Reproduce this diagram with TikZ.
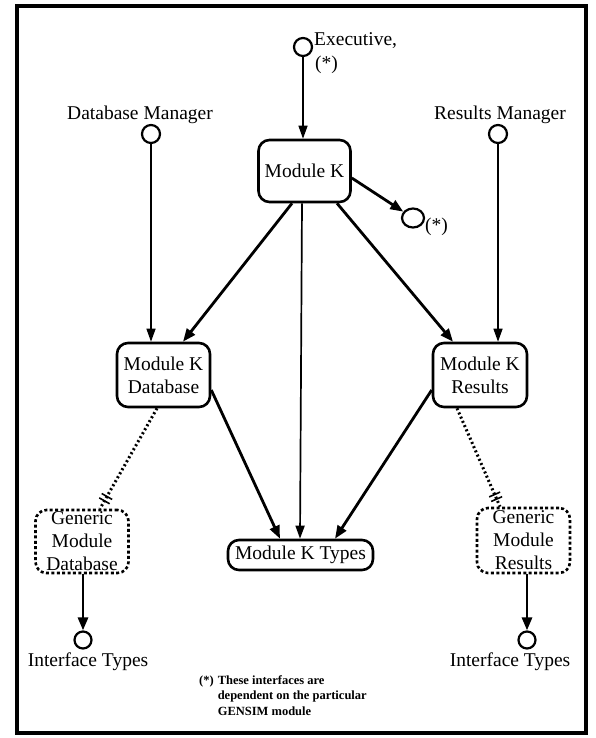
\documentclass[tikz,border=0pt]{standalone}
\usepackage{fontspec}
\setmainfont{Liberation Serif}
\usetikzlibrary{arrows.meta,decorations.markings,shapes.geometric}
\begin{document}
\begin{tikzpicture}[x=1pt,y=-1pt,
  box/.style={draw,line width=2.6pt,rounded corners=11pt,inner sep=0pt,align=center,
    font=\fontsize{19.5}{23}\selectfont},
  genbox/.style={box,dash pattern=on 3pt off 2.4pt},
  port/.style={draw,circle,line width=2.2pt,minimum size=18pt,inner sep=0pt},
  lbl/.style={font=\fontsize{19.5}{22}\selectfont,inner sep=0pt},
  thinlink/.style={line width=1.4pt,-{Triangle[length=13pt,width=9pt]}},
  thicklink/.style={line width=2.8pt,-{Triangle[length=13pt,width=10pt]}},
  hatch/.style={postaction={decorate},decoration={markings,
    mark=at position 0.9 with {\draw[solid,line width=1.6pt] (-2.5,-6)--(-2.5,6) (2.5,-6)--(2.5,6);}}},
  dotlink/.style={line width=3pt,dash pattern=on 2pt off 2.6pt,hatch}
]
\useasboundingbox (0,0) rectangle (595,738);
\fill[white] (0,0) rectangle (595,738);
\draw[line width=4pt] (17,6) rectangle (586,733);

% modules
\node[box,minimum width=92pt,minimum height=62pt] (mk) at (304.5,171) {Module K};
\node[box,minimum width=93pt,minimum height=64pt] (mkd) at (163.5,375) {Module K\\Database};
\node[box,minimum width=94pt,minimum height=64pt] (mkr) at (480,375) {Module K\\Results};
\node[box,minimum width=145pt,minimum height=30pt] (mkt) at (300.5,555) {Module K Types};
\node[genbox,minimum width=93pt,minimum height=63pt] (gmd) at (82,541.5) {Generic\\Module\\Database};
\node[genbox,minimum width=93pt,minimum height=65pt] (gmr) at (523.5,540.5) {Generic\\Module\\Results};

% interface ports
\node[port] (ex) at (303,47) {};
\node[port] (dbm) at (151,134) {};
\node[port] (rsm) at (498,134) {};
\node[port,ellipse,minimum width=22pt,minimum height=19pt] (dep) at (413,218) {};
\node[port,minimum size=17pt] (ifl) at (83,640) {};
\node[port,minimum size=17pt] (ifr) at (527,640) {};

% port labels
\node[lbl,anchor=west] (exl) at (314,41) {Executive,};
\node[lbl,anchor=west] (exs) at (315,65) {(*)};
\node[lbl] (dbml) at (140,115) {Database Manager};
\node[lbl] (rsml) at (500,115) {Results Manager};
\node[lbl,anchor=west] (deps) at (425,227) {(*)};
\node[lbl] (ifll) at (88,662) {Interface Types};
\node[lbl] (ifrl) at (510,662) {Interface Types};

% footnote
\node[anchor=north west,inner sep=0pt,font=\fontsize{12.5}{15.5}\selectfont\bfseries] (note) at (199,673)
  {\begin{tabular}{@{}l@{\hspace{4pt}}l@{}}(*) & These interfaces are\\ & dependent on the particular\\ & GENSIM module\end{tabular}};

% connectors
\draw[thinlink] (ex) -- (ex |- mk.north);
\draw[thinlink] (dbm) -- (dbm |- mkd.north);
\draw[thinlink] (rsm) -- (rsm |- mkr.north);
\draw[thicklink] ([yshift=-7pt]mk.east) -- (dep);
\draw[thicklink] ([xshift=-12.5pt]mk.south) -- ([xshift=19.5pt]mkd.north);
\draw[thicklink] ([xshift=32.5pt]mk.south) -- ([xshift=-27pt]mkr.north);
\draw[thinlink,line width=1.7pt] ([xshift=-2.5pt]mk.south) -- ([xshift=-0.5pt]mkt.north);
\draw[thicklink] ([yshift=-15pt]mkd.east) -- ([xshift=-20.5pt]mkt.north);
\draw[thicklink] ([yshift=-15pt]mkr.west) -- ([xshift=34.5pt]mkt.north);
\draw[dotlink] ([xshift=-6.5pt]mkd.south) -- ([xshift=18pt]gmd.north);
\draw[dotlink] ([xshift=-23pt]mkr.south) -- ([xshift=-23.5pt]gmr.north);
\draw[thicklink] (ifl |- gmd.south) -- (ifl);
\draw[thicklink] (ifr |- gmr.south) -- (ifr);
\end{tikzpicture}
\end{document}
